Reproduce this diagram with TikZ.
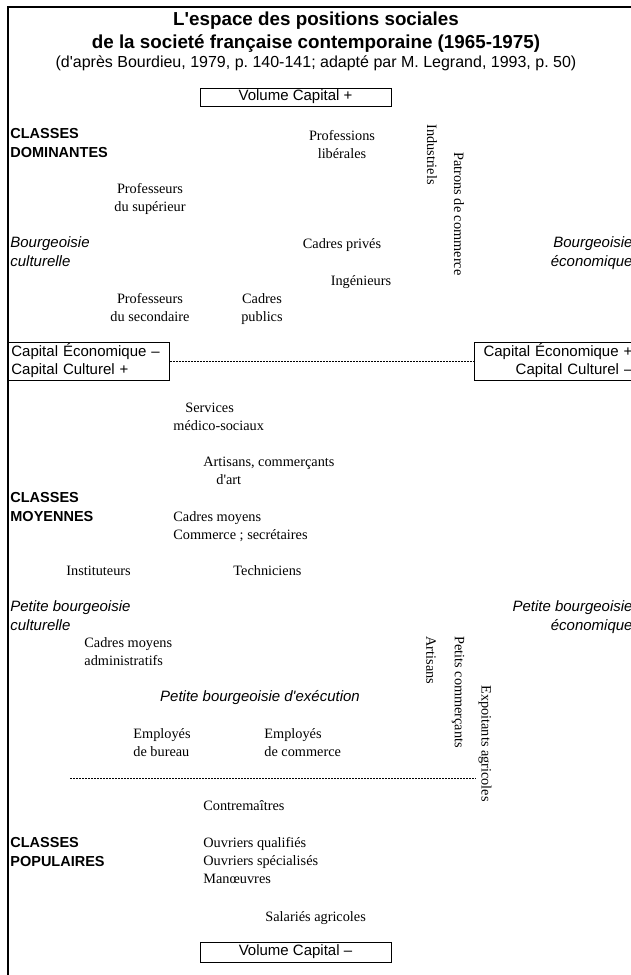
\documentclass[tikz,border=0pt]{standalone}
\usepackage{fontspec}
\setmainfont{Liberation Serif}[Ligatures=TeXOff]
\setsansfont{Liberation Sans}[Ligatures=TeXOff]
\usepackage{tikz}

\tikzset{
	metier/.style={inner sep=0pt, font=\rmfamily\fontsize{14.3}{18}\selectfont},
	classe/.style={inner sep=0pt, align=left, font=\sffamily\bfseries\fontsize{14.5}{19}\selectfont},
	fraction/.style={inner sep=0pt, font=\sffamily\itshape\fontsize{15}{19}\selectfont},
	capbox/.style={draw, line width=0.8pt, inner sep=0pt, font=\sffamily\fontsize{15}{18}\selectfont},
	axe/.style={draw, line width=0.6pt, dash pattern=on 2pt off 1pt},
	cadre/.style={draw, line width=1.5pt},
	vertical/.style={metier, rotate=-90, anchor=west},
}

\begin{document}
\begin{tikzpicture}[x=1pt, y=-1pt, line width=0.8pt]
	\useasboundingbox (0,0) rectangle (631,975);
	% cadre (base of a multi-line node = its last line)
	\coordinate (coinBas) at (8,976);
	\coordinate (coinHaut) at (8,7);
	\coordinate (coinDroit) at (632,7);
	\draw[cadre] (coinBas)--(coinHaut)--(coinDroit);

	\node[align=center, inner sep=0pt, font=\sffamily\bfseries\fontsize{18.8}{23}\selectfont, anchor=base] (titre) at (316,48) {L'espace des positions sociales\\de la societé française contemporaine (1965-1975)};
	\node[inner sep=0pt, font=\sffamily\fontsize{16}{19}\selectfont, anchor=base] (source) at (316,67) {(d'après Bourdieu, 1979, p.~140-141; adapté par M.~Legrand, 1993, p.~50)};
	\node[capbox, minimum width=191pt, minimum height=18pt] (volPlus) at (295.5,97) {Volume Capital +};

	% classes dominantes
	\node[classe, anchor=base west] (dominantes) at (10,157) {CLASSES\\DOMINANTES};
	\node[metier, align=center, anchor=base] (liberales) at (342,158) {Professions\\libérales};
	\node[vertical] (industriels) at (432,124) {Industriels};
	\node[vertical] (patrons) at (459,152) {Patrons de commerce};
	\node[metier, align=center, anchor=base] (profSup) at (150,211) {Professeurs\\du supérieur};
	\node[fraction, align=left, anchor=base west] (bourgCult) at (10,266) {Bourgeoisie\\culturelle};
	\node[metier, anchor=base] (cadresPrives) at (342,248) {Cadres privés};
	\node[fraction, align=right, anchor=base east] (bourgEco) at (633,266) {Bourgeoisie\\économique};
	\node[metier, anchor=base] (ingenieurs) at (361,285) {Ingénieurs};
	\node[metier, align=center, anchor=base] (profSec) at (150,321) {Professeurs\\du secondaire};
	\node[metier, align=center, anchor=base] (cadresPub) at (262,321) {Cadres\\publics};

	% axe horizontal
	\node[capbox, anchor=west, text width=155pt, align=left, inner xsep=3pt, minimum height=38pt] (ecoMoins) at (8,361) {Capital Économique –\\Capital Culturel +};
	\node[capbox, anchor=west, text width=155pt, align=right, inner xsep=3pt, minimum height=38pt] (ecoPlus) at (474,361) {Capital Économique +\\Capital Culturel –};
	\draw[axe] (ecoMoins.east) -- (ecoPlus.west);

	% classes moyennes
	\node[metier, align=left, anchor=base west] (services) at (173,430) {\hspace*{12pt}Services\\médico-sociaux};
	\node[metier, align=left, anchor=base west] (artisansArt) at (203,484) {Artisans, commerçants\\\hspace*{13pt}d'art};
	\node[classe, anchor=base west] (moyennes) at (10,521) {CLASSES\\MOYENNES};
	\node[metier, align=left, anchor=base west] (cadresMoy) at (173,539) {Cadres moyens\\Commerce ; secrétaires};
	\node[metier, anchor=base west] (instituteurs) at (66,575) {Instituteurs};
	\node[metier, anchor=base west] (techniciens) at (233,575) {Techniciens};
	\node[fraction, align=left, anchor=base west] (pbCult) at (10,630) {Petite bourgeoisie\\culturelle};
	\node[fraction, align=right, anchor=base east] (pbEco) at (633,630) {Petite bourgeoisie\\économique};
	\node[metier, align=left, anchor=base west] (cadresAdm) at (84,665) {Cadres moyens\\administratifs};
	\node[vertical] (artisans) at (431,636) {Artisans};
	\node[vertical] (petitsComm) at (458,636) {Petits commerçants};
	\node[vertical] (exploitants) at (485,685) {Expoitants agricoles};
	\node[fraction, anchor=base] (pbExec) at (260,701) {Petite bourgeoisie d'exécution};
	\node[metier, align=left, anchor=base west] (empBureau) at (133,756) {Employés\\de bureau};
	\node[metier, align=left, anchor=base west] (empCommerce) at (264,756) {Employés\\de commerce};

	\coordinate (limiteG) at (70,778);
	\coordinate (limiteD) at (476,778);
	\draw[axe] (limiteG) -- (limiteD);

	% classes populaires
	\node[metier, anchor=base west] (contremaitres) at (203,810) {Contremaîtres};
	\node[classe, anchor=base west] (populaires) at (10,866) {CLASSES\\POPULAIRES};
	\node[metier, align=left, anchor=base west] (ouvriers) at (203,883) {Ouvriers qualifiés\\Ouvriers spécialisés\\Manœuvres};
	\node[metier, anchor=base west] (salaries) at (265,921) {Salariés agricoles};
	\node[capbox, minimum width=191pt, minimum height=20pt] (volMoins) at (295.5,952) {Volume Capital –};
\end{tikzpicture}
\end{document}
